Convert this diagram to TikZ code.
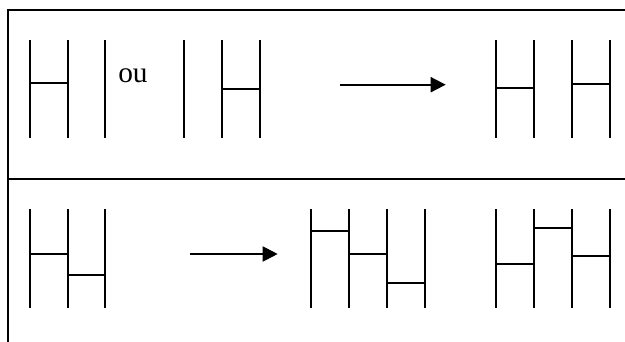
\documentclass[tikz,border=0pt]{standalone}
\usepackage{fontspec}
\setmainfont{Liberation Serif}
\usetikzlibrary{arrows.meta}
\begin{document}
\begin{tikzpicture}[x=0.75pt,y=-0.75pt,
  frame/.style={line width=1.7pt},
  rail/.style={line width=1.5pt},
  rung/.style={line width=1.5pt},
  flow/.style={line width=1.5pt,-{Triangle[length=11.25pt,width=11.25pt]}}]
\useasboundingbox (0,0) rectangle (625,342);

% table frame: top rule, left rule, row divider
\draw[frame] (625,10) -- (7.7,10) -- (7.7,342);
\draw[frame] (7.7,179) -- (625,179);

% first row: rails
\foreach \x in {30,68,105.3,184,222,260,496,534,572,610}
  \draw[rail] (\x,40) -- (\x,138);
% first row: rungs
\draw[rung] (30,83.3) -- (68,83.3);
\draw[rung] (222,89) -- (260,89);
\draw[rung] (496,88) -- (534,88);
\draw[rung] (572,84) -- (610,84);
\node[anchor=base west,inner sep=0pt,font=\fontsize{22}{26}\selectfont] (ou) at (118,82.3) {ou};

% first row: arrow
\coordinate (a1s) at (340,84.7);
\coordinate (a1e) at (445.7,84.7);
\draw[flow] (a1s) -- (a1e);

% second row: rails
\foreach \x in {30,68,105.3,311,349.3,386.7,424.7,496,534,572,610}
  \draw[rail] (\x,209.3) -- (\x,307.7);
% second row: rungs
\draw[rung] (30,254) -- (68,254);
\draw[rung] (68,275) -- (105.3,275);
\draw[rung] (311,231) -- (349.3,231);
\draw[rung] (349.3,253.7) -- (386.7,253.7);
\draw[rung] (386.7,283.3) -- (424.7,283.3);
\draw[rung] (496,264) -- (534,264);
\draw[rung] (534,228) -- (572,228);
\draw[rung] (572,256.3) -- (610,256.3);

% second row: arrow
\coordinate (a2s) at (190,254);
\coordinate (a2e) at (277.7,254);
\draw[flow] (a2s) -- (a2e);
\end{tikzpicture}
\end{document}
